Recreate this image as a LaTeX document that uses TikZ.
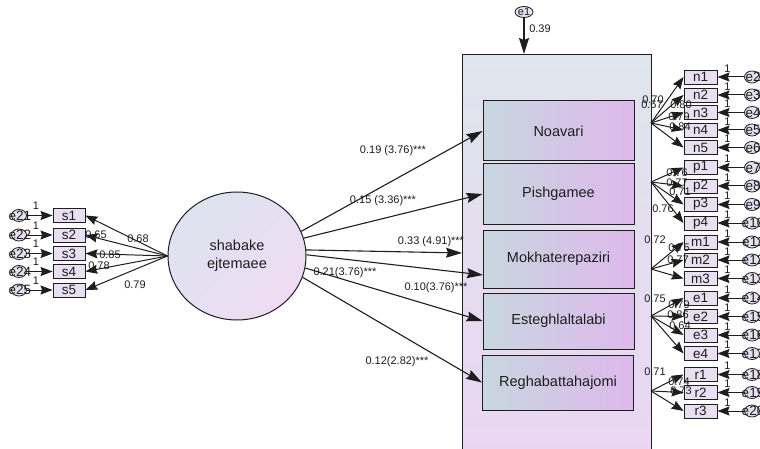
\documentclass[tikz,border=0pt]{standalone}
\usepackage{fontspec}
\setmainfont{Liberation Sans}
\usetikzlibrary{arrows.meta,shapes.geometric}
\definecolor{semink}{HTML}{1E1E1E}
\definecolor{sempaneltop}{HTML}{DFE5EC}
\definecolor{sempanelbot}{HTML}{EAD6F3}
\definecolor{semfacl}{HTML}{C8D6DF}
\definecolor{semfacr}{HTML}{DDB9EB}
\definecolor{semlata}{HTML}{DDE3EF}
\definecolor{semlatb}{HTML}{EFDCF4}
\definecolor{semitem}{HTML}{E8DFF1}
\tikzset{
  sem text/.style={font=\fontsize{11}{12}\selectfont, text=semink},
  sem panel/.style={draw=semink, line width=0.9pt, top color=sempaneltop,
    bottom color=sempanelbot, anchor=north west},
  sem factor/.style={draw=semink, line width=1pt, left color=semfacl, right color=semfacr,
    minimum width=151pt, inner sep=0pt, font=\fontsize{14.5}{16}\selectfont},
  sem latent/.style={ellipse, draw=semink, line width=1pt, top color=semlata,
    bottom color=semlatb, shading angle=45, align=center, inner sep=0pt,
    font=\fontsize{14.5}{18}\selectfont},
  sem item/.style={draw=semink, line width=0.9pt, fill=semitem, minimum width=33pt,
    minimum height=14pt, inner sep=0pt, font=\fontsize{13.5}{14}\selectfont},
  sem err/.style={ellipse, draw=semink, line width=0.8pt, fill=semitem,
    minimum width=15pt, minimum height=12pt, inner sep=0pt},
  sem errname/.style={font=\fontsize{13.5}{14}\selectfont, inner sep=0pt},
  sem coef/.style={font=\fontsize{11}{12}\selectfont, inner sep=0pt},
  sem arrow/.style={-{Stealth[length=16pt,width=10pt,inset=2pt]}, line width=1.1pt, draw=semink},
  sem small arrow/.style={-{Stealth[length=12pt,width=9pt,inset=1.5pt]}, line width=1pt,
    draw=semink}
}
\begin{document}
\begin{tikzpicture}[sem text, x=1pt, y=-1pt]
  \useasboundingbox[fill=white] (0,0) rectangle (760,449);
  % second order block
  \node[sem panel, minimum width=189pt, minimum height=400pt] (panel) at (462,54) {};
  \node[sem factor, minimum height=60pt] (noav) at (558.5,131) {Noavari};
  \node[sem factor, minimum height=60pt] (pish) at (558.5,194) {Pishgamee};
  \node[sem factor, minimum height=58pt] (mokh) at (558.5,259) {Mokhaterepaziri};
  \node[sem factor, minimum height=56pt] (este) at (558.5,321) {Esteghlaltalabi};
  \node[sem factor, minimum height=55pt] (regh) at (558,382.5) {Reghabattahajomi};
  \node[sem err, minimum width=18pt, minimum height=11pt] (err1) at (524,12) {};
  \node[sem errname, font=\fontsize{11}{11}\selectfont] (err1t) at (524,12) {e1};
  \draw[sem arrow] (err1) -- (err1 |- panel.north);
  \node[sem coef] (c0) at (540,29) {0.39};

  % independent latent
  \node[sem latent, minimum width=138pt, minimum height=128pt] (latent) at (237,256) {shabake\\ejtemaee};
  \coordinate (pin) at (462,253);
  \coordinate (mokhin) at (483,275);
  \draw[sem arrow] (latent.21) -- (noav.west);
  \draw[sem arrow] (latent.15) -- (pish.west);
  \draw[sem arrow] (latent.5) -- (pin);
  \draw[sem arrow] (latent.1) -- (mokhin);
  \draw[sem arrow] (latent.-10) -- (este.west);
  \draw[sem arrow] (latent.-18) -- (regh.west);
  \node[sem coef] (c1) at (393,151) {0.19 (3.76)***};
  \node[sem coef] (c2) at (383,201) {0.15 (3.36)***};
  \node[sem coef] (c3) at (431,242) {0.33 (4.91)***};
  \node[sem coef] (c4) at (345,273) {0.21(3.76)***};
  \node[sem coef] (c5) at (436,288) {0.10(3.76)***};
  \node[sem coef] (c6) at (397,362) {0.12(2.82)***};

  % left indicators
  \foreach \nm/\y/\er in {s1/215.5/21, s2/235/22, s3/253.5/23, s4/271.5/24, s5/290/25} {
    \node[sem item, minimum width=32pt] (\nm) at (69,\y) {\nm};
    \node[sem err] (err\er) at (19,\y) {};
    \node[sem errname] (err\er t) at (20,\y) {e\er};
    \draw[sem small arrow] (err\er) -- (\nm);
    \node[sem coef] (one\er) at (36,\y-9.5) {1};
    \draw[sem small arrow] (latent.west) -- (\nm.east);
  }

  % right indicators
  \coordinate (nout) at (651,123);
  \coordinate (pout) at (651,182);
  \coordinate (mout) at (651,269);
  \coordinate (eout) at (651,316);
  \coordinate (rout) at (651,391);
  \foreach \nm/\y/\er/\src in {n1/77/2/nout, n2/95/3/nout, n3/112.5/4/nout, n4/130/5/nout,
      n5/147.5/6/nout, p1/167.5/7/pout, p2/186/8/pout, p3/204.5/9/pout, p4/223/10/pout,
      m1/242/11/mout, m2/260/12/mout, m3/278.5/13/mout, e1/298/14/eout, e2/316.5/15/eout,
      e3/335/16/eout, e4/353.5/17/eout, r1/374.5/18/rout, r2/392.5/19/rout, r3/411/20/rout} {
    \node[sem item] (\nm) at (700.5,\y) {\nm};
    \node[sem err] (err\er) at (752,\y) {};
    \node[sem errname] (err\er t) at (753,\y) {e\er};
    \draw[sem small arrow] (err\er) -- (\nm);
    \node[sem coef] (one\er) at (727.5,\y-8.5) {1};
    \draw[sem small arrow] (\src) -- (\nm.west);
  }

  % loadings
  \foreach \lb/\x/\y/\v in {l21/96/235/0.65, l22/138/239/0.68, l23/110/255/0.85,
      l24/99/266/0.78, l25/135/285/0.79,
      l2/653/100/0.70, l3/652/105/0.67, l4/681/104.5/0.80, l5/679/117/0.79, l6/680/127/0.84,
      l7/677/173/0.76, l8/677/183/0.77, l9/680/192/0.71, l10/663/209/0.76,
      l11/655/240/0.72, l12/679/248/0.75, l13/678/260/0.77,
      l14/655/299/0.75, l15/679/305/0.79, l16/678/315/0.86, l17/680/326/0.64,
      l18/655/372/0.71, l19/679/382/0.74, l20/681/391/0.73} {
    \node[sem coef] (\lb) at (\x,\y) {\v};
  }
\end{tikzpicture}
\end{document}
